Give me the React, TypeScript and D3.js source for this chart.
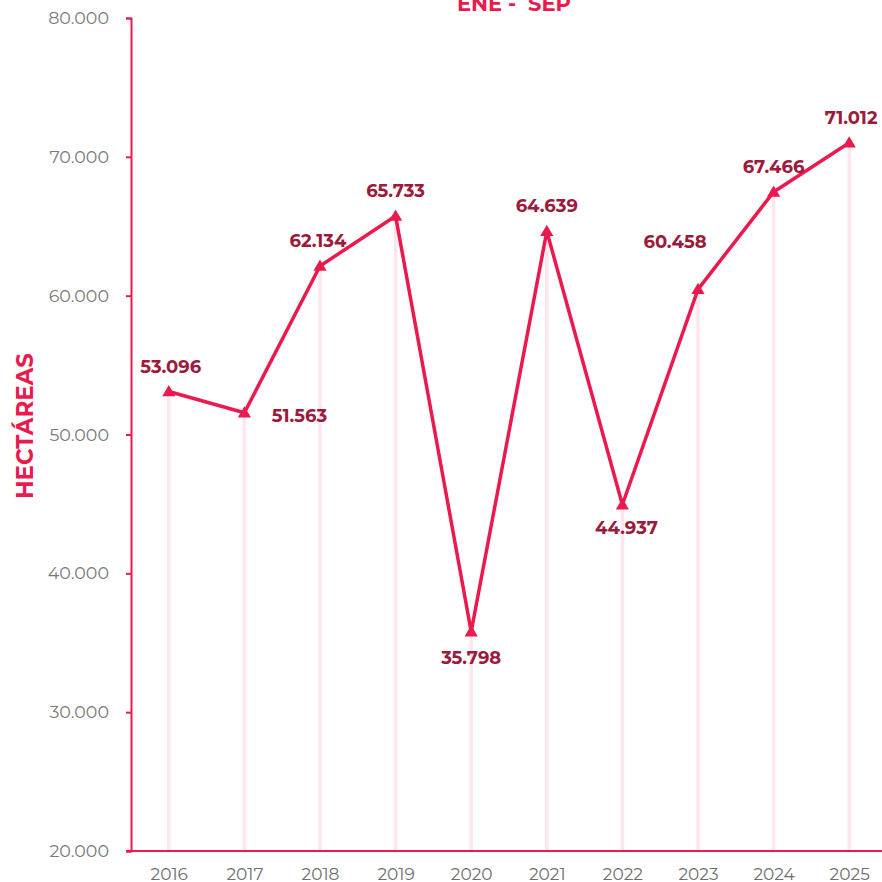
import React, { useRef, useEffect } from "react";
import { select, scaleLinear, scalePoint, axisLeft, axisBottom, line, symbol, symbolTriangle } from "d3";

const years = ["2016", "2017", "2018", "2019", "2020", "2021", "2022", "2023", "2024", "2025"];
const hectareas = [53096, 51563, 62134, 65733, 35798, 64639, 44937, 60458, 67466, 71012];
const yTicks = [20000, 30000, 40000, 50000, 60000, 70000, 80000];
const title = "ENE -  SEP";
const yTitle = "HECTÁREAS";

// where each value label sits relative to its point
const labelPos = [
  [2, -19], [55, 9], [-2, -19], [0, -19], [0, 32],
  [0, -19], [4, 29], [-23, -41], [0, -19], [2, -19],
];

const fmt = (v: number) => v.toLocaleString("de-DE");

export default function App() {
  const svgRef = useRef<SVGSVGElement>(null);

  useEffect(() => {
    const W = 882, H = 882;
    const left = 131, top = 18, bottom = 851;
    const main = "#ea1a4f";
    const dark = "#9c1a3b";
    const font = "Montserrat, 'Open Sans', Lato, sans-serif";

    const svg = select(svgRef.current);
    svg.selectAll("*").remove();

    const x = scalePoint<string>().domain(years).range([left, left + 75.6 * 10]).padding(0.5);
    const y = scaleLinear().domain([20000, 80000]).range([bottom, top]);

    const data = years.map((yr, i) => ({ yr, v: hectareas[i] }));

    // drop lines
    svg.append("g").selectAll("line")
      .data(data)
      .join("line")
      .attr("x1", (d) => x(d.yr)!)
      .attr("x2", (d) => x(d.yr)!)
      .attr("y1", (d) => y(d.v))
      .attr("y2", bottom)
      .attr("stroke", "#fde6ee")
      .attr("stroke-width", 3.5);

    const gy = svg.append("g")
      .attr("transform", `translate(${left},0)`)
      .call(axisLeft(y).tickValues(yTicks).tickFormat((d) => fmt(d as number)).tickSize(5).tickSizeOuter(5));
    gy.select(".domain").attr("stroke", main).attr("stroke-width", 2);
    gy.selectAll(".tick line").attr("stroke", main).attr("stroke-width", 2);
    gy.selectAll(".tick text")
      .attr("fill", "#7a7a7a")
      .attr("font-size", 17.5)
      .attr("font-family", font)
      .attr("x", -22);

    const gx = svg.append("g")
      .attr("transform", `translate(0,${bottom})`)
      .call(axisBottom(x).tickSize(0).tickSizeOuter(0));
    gx.select(".domain").attr("stroke", main).attr("stroke-width", 2)
      .attr("d", `M${left - 5},0H${W}`);
    gx.selectAll(".tick text")
      .attr("fill", "#6e6e6e")
      .attr("font-size", 17)
      .attr("font-family", font)
      .attr("dy", "1.5em");

    const lineGen = line<{ yr: string; v: number }>()
      .x((d) => x(d.yr)!)
      .y((d) => y(d.v));

    svg.append("path")
      .datum(data)
      .attr("d", lineGen)
      .attr("fill", "none")
      .attr("stroke", main)
      .attr("stroke-width", 3.5)
      .attr("stroke-linejoin", "round");

    svg.append("g").selectAll("path")
      .data(data)
      .join("path")
      .attr("d", symbol().type(symbolTriangle).size(75)())
      .attr("transform", (d) => `translate(${x(d.yr)},${y(d.v) + 1})`)
      .attr("fill", main);

    svg.append("g").selectAll("text")
      .data(data)
      .join("text")
      .attr("x", (d, i) => x(d.yr)! + labelPos[i][0])
      .attr("y", (d, i) => y(d.v) + labelPos[i][1])
      .attr("text-anchor", "middle")
      .attr("fill", dark)
      .attr("font-size", 18)
      .attr("font-weight", 700)
      .attr("font-family", font)
      .text((d) => fmt(d.v));

    svg.append("text")
      .attr("x", 514)
      .attr("y", 11)
      .attr("text-anchor", "middle")
      .attr("fill", main)
      .attr("font-size", 21)
      .attr("font-weight", 700)
      .attr("font-family", font)
      .style("white-space", "pre")
      .text(title);

    svg.append("text")
      .attr("transform", `translate(33,426) rotate(-90)`)
      .attr("text-anchor", "middle")
      .attr("fill", main)
      .attr("font-size", 23)
      .attr("font-weight", 700)
      .attr("font-family", font)
      .text(yTitle);

    svg.attr("width", W).attr("height", H);
  }, []);

  return (
    <svg ref={svgRef} width={882} height={882}
      style={{ position: "absolute", left: 0, top: 0, background: "#fff" }} />
  );
}
